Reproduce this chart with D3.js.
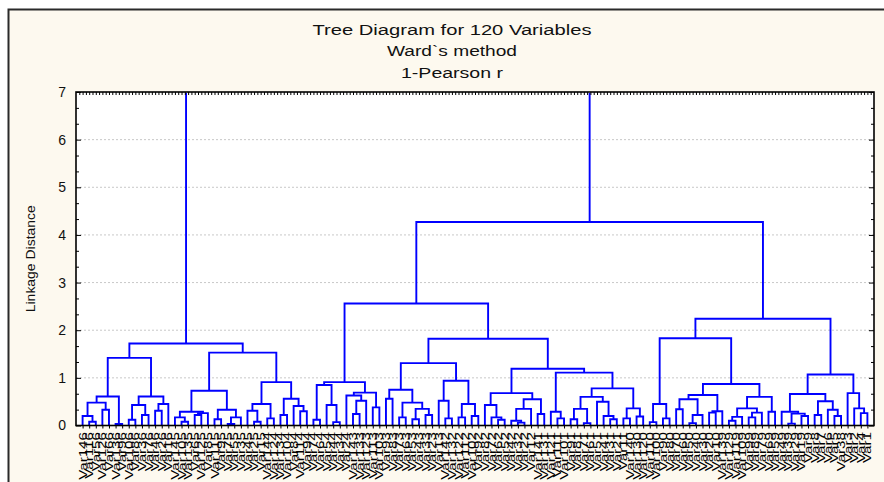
<!DOCTYPE html>
<html><head><meta charset="utf-8">
<script src="https://cdn.jsdelivr.net/npm/d3@7"></script>
<style>html,body{margin:0;padding:0;background:#fff;}svg{display:block;}</style>
</head><body><div id="chart"></div>
<script>
// ---------- DATA ----------
const titleLines = ["Tree Diagram for 120 Variables", "Ward`s method", "1-Pearson r"];
const yLabel = "Linkage Distance";
const yTicks = [0, 1, 2, 3, 4, 5, 6, 7];

// leaf labels, left to right
const leafLabels = [
  "Var146","Var116","Var56","Var126","Var66","Var136","Var96","Var106","Var86","Var36","Var76","Var46","Var26","Var16",
  "Var145","Var105","Var135","Var65","Var125","Var85","Var115","Var95","Var75","Var55","Var35","Var45","Var25","Var15",
  "Var144","Var124","Var134","Var104","Var84","Var114","Var94","Var74","Var64","Var54","Var44","Var34","Var24",
  "Var143","Var133","Var123","Var113","Var103","Var93","Var83","Var73","Var63","Var53","Var43","Var33","Var23","Var13",
  "Var142","Var132","Var122","Var112","Var102","Var92","Var82","Var72","Var62","Var52","Var42","Var32","Var22","Var12",
  "Var141","Var131","Var121","Var111","Var101","Var91","Var81","Var71","Var61","Var51","Var41","Var31","Var21","Var11",
  "Var140","Var130","Var120","Var110","Var100","Var90","Var80","Var70","Var60","Var50","Var40","Var30","Var20","Var10",
  "Var139","Var129","Var119","Var109","Var99","Var89","Var79","Var69","Var59","Var49","Var39","Var29","Var19",
  "Var9","Var8","Var7","Var6","Var5","Var38","Var3","Var2","Var4","Var1"
];

// merges: [left, right, linkage distance]; leaves are leaf numbers (1-based)
const clusterA1 = [
  [[[1,[2,3,0.08],0.20],[4,5,0.33],0.48],[6,7,0.03],0.61],
  [[[8,9,0.12],[10,11,0.22],0.43],[[12,13,0.31],14,0.45],0.61],
  1.42];
const clusterA2 = [
  [[[15,[16,17,0.08],0.17],[[18,19,0.22],20,0.26],0.29],[[21,22,0.13],[[23,24,0.03],25,0.17],0.33],0.73],
  [[[26,[27,28,0.08],0.31],[29,30,0.15],0.45],[[31,32,0.22],[33,[34,35,0.30],0.41],0.56],0.91],
  1.53];
const clusterB1 = [
  [[36,37,0.12],[38,[39,40,0.07],0.43],0.85],
  [[41,[[42,43,0.24],44,0.52],0.63],[45,46,0.38],0.69],
  0.91];
const clusterB2L = [
  [[47,48,0.56],[[49,50,0.17],[[51,52,0.13],[53,54,0.22],0.35],0.48],0.75],
  [[55,[56,57,0.15],0.52],[[58,59,0.17],[60,61,0.20],0.45],0.94],
  1.31];
const clusterB2R = [
  [[62,[63,[64,65,0.12],0.17],0.43],[[[66,[67,68,0.06],0.10],69,0.35],[70,71,0.24],0.55],0.68],
  [[72,[73,74,0.15],0.29],
   [[[[75,76,0.13],[77,78,0.05],0.35],[79,[80,[81,82,0.13],0.20],0.50],0.60],[[83,84,0.15],[85,86,0.19],0.36],0.78],
   1.11],
  1.19];
const clusterC1 = [
  [[87,88,0.07],[89,90,0.15],0.45],
  [[[[91,92,0.34],[[93,94,0.05],95,0.22],0.55],[[96,97,0.27],98,0.30],0.64],
   [[[[99,100,0.10],101,0.18],[[102,103,0.17],104,0.27],0.36],[105,106,0.29],0.60],
   0.87],
  1.83];
const clusterC2 = [
  [[107,[[108,109,0.04],[110,111,0.20],0.25],0.29],[[112,113,0.22],[114,[115,116,0.20],0.33],0.51],0.66],
  [117,[118,[119,120,0.26],0.36],0.68],
  1.07];
const upperMerges = { A: 1.72, B2: 1.82, B: 2.56, C: 2.24, BC: 4.27, root: 7.0 };

// ---------- BUILD ----------
const treeData = [
  [clusterA1, clusterA2, upperMerges.A],
  [[clusterB1, [clusterB2L, clusterB2R, upperMerges.B2], upperMerges.B],
   [clusterC1, clusterC2, upperMerges.C], upperMerges.BC],
  upperMerges.root];

const W = 884, H = 482;
const plot = { l: 76, r: 874, t: 92, b: 425.5 };
const font = "Arial, 'Liberation Sans', sans-serif";

const svg = d3.select("#chart").append("svg").attr("width", W).attr("height", H);

// outer panel
svg.append("rect").attr("x", 8.5).attr("y", 9.5).attr("width", 920).attr("height", 520)
  .attr("fill", "#fdf9ef").attr("stroke", "#2a2a2a").attr("stroke-width", 2);

// plot background
svg.append("rect").attr("x", plot.l).attr("y", plot.t).attr("width", plot.r - plot.l)
  .attr("height", plot.b - plot.t).attr("fill", "#fff");

const x = d3.scaleLinear().domain([0, leafLabels.length + 1]).range([plot.l, plot.r]);
const y = d3.scaleLinear().domain([0, 7]).range([plot.b, plot.t]);

// titles
const tLen = [279, 130, 102], tY = [35, 56, 78];
titleLines.forEach((t, i) => {
  svg.append("text").attr("x", 452).attr("y", tY[i]).attr("text-anchor", "middle")
    .attr("font-family", font).attr("font-size", 14).attr("fill", "#111")
    .attr("textLength", tLen[i]).attr("lengthAdjust", "spacingAndGlyphs").text(t);
});

// gridlines
svg.append("g").selectAll("line").data(yTicks.filter(v => v > 0 && v < 7)).join("line")
  .attr("x1", plot.l).attr("x2", plot.r).attr("y1", d => y(d)).attr("y2", d => y(d))
  .attr("stroke", "#c8c8c8").attr("stroke-width", 1).attr("stroke-dasharray", "2,2");

// hierarchy
const root = d3.hierarchy(treeData, d => Array.isArray(d) ? [d[0], d[1]] : null);
root.each(n => { n.h = Array.isArray(n.data) ? n.data[2] : 0; });
root.leaves().forEach((lf, i) => { lf.px = x(i + 1); lf.label = leafLabels[lf.data - 1]; });
root.eachAfter(n => { if (n.children) n.px = (n.children[0].px + n.children[1].px) / 2; });

svg.append("clipPath").attr("id", "clip").append("rect")
  .attr("x", plot.l).attr("y", plot.t + 1).attr("width", plot.r - plot.l).attr("height", plot.b - plot.t);

const links = root.descendants().filter(n => n.children);
svg.append("g").attr("clip-path", "url(#clip)").selectAll("path").data(links).join("path")
  .attr("fill", "none").attr("stroke", "#0000ff").attr("stroke-width", 1.9)
  .attr("d", n => {
    const [a, b] = n.children;
    return `M${a.px},${y(a.h)}V${y(n.h)}H${b.px}V${y(b.h)}`;
  });

// axes
const minorTicks = d3.range(0, 7.0001, 1 / 3).filter(v => Math.abs(v - Math.round(v)) > 0.01);
const axL = svg.append("g").attr("transform", `translate(${plot.l},0)`)
  .call(d3.axisLeft(y).tickValues(yTicks).tickSizeInner(-5).tickSizeOuter(0).tickPadding(10).tickFormat(d3.format("d")));
axL.select(".domain").remove();
axL.selectAll("text").attr("font-family", font).attr("font-size", 14).attr("fill", "#111");
axL.selectAll("line").attr("stroke", "#000");
svg.append("g").attr("transform", `translate(${plot.l},0)`)
  .call(d3.axisLeft(y).tickValues(minorTicks).tickSizeInner(-3).tickSizeOuter(0).tickFormat(""))
  .select(".domain").remove();
const axR = svg.append("g").attr("transform", `translate(${plot.r},0)`)
  .call(d3.axisRight(y).tickValues(yTicks).tickSizeInner(-5).tickSizeOuter(0).tickFormat(""));
axR.select(".domain").remove();
svg.append("g").attr("transform", `translate(${plot.r},0)`)
  .call(d3.axisRight(y).tickValues(minorTicks).tickSizeInner(-3).tickSizeOuter(0).tickFormat(""))
  .select(".domain").remove();

// top ticks (half-leaf spacing) and bottom leaf ticks
const halfSteps = d3.range(1, 2 * (leafLabels.length + 1)).map(v => v / 2);
svg.append("g").attr("transform", `translate(0,${plot.t})`)
  .call(d3.axisBottom(x).tickValues(halfSteps).tickSizeInner(3).tickSizeOuter(0).tickFormat(""))
  .select(".domain").remove();
svg.append("g").attr("transform", `translate(0,${plot.b})`)
  .call(d3.axisBottom(x).tickValues(d3.range(1, leafLabels.length + 1)).tickSizeInner(3).tickSizeOuter(0).tickFormat(""))
  .select(".domain").remove();

// frame
svg.append("rect").attr("x", plot.l).attr("y", plot.t).attr("width", plot.r - plot.l)
  .attr("height", plot.b - plot.t).attr("fill", "none").attr("stroke", "#000").attr("stroke-width", 1.6);

// leaf labels (stretched along the reading direction, as in the original)
svg.append("g").selectAll("text").data(root.leaves()).join("text")
  .attr("transform", d => `translate(${d.px},432) rotate(-90) scale(1.32,1)`)
  .attr("text-anchor", "end").attr("dy", "0.35em")
  .attr("font-family", font).attr("font-size", 11.5).attr("fill", "#000")
  .text(d => d.label);

// y-axis title
svg.append("text").attr("transform", `translate(35,${(plot.t + plot.b) / 2}) rotate(-90)`)
  .attr("text-anchor", "middle").attr("font-family", font).attr("font-size", 12).attr("fill", "#111")
  .attr("textLength", 107).attr("lengthAdjust", "spacingAndGlyphs").text(yLabel);
</script></body></html>
